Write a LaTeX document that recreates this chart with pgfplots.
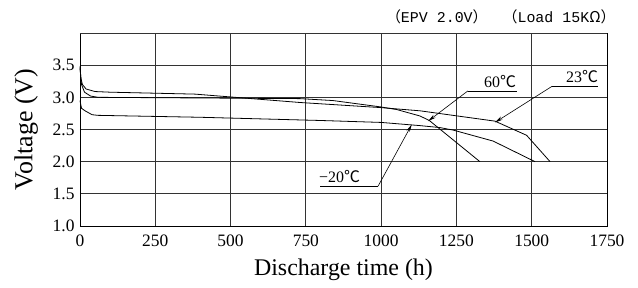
\documentclass[border=0pt]{standalone}
\usepackage{fontspec}
\setmainfont{Liberation Serif}
\newfontfamily\cjk{Noto Sans CJK SC}
\newfontfamily\mono{Liberation Mono}
\usepackage{pgfplots}
\pgfplotsset{compat=1.18}
\usetikzlibrary{arrows.meta}
\begin{document}
\begin{tikzpicture}
\useasboundingbox (-80bp,-62bp) rectangle (558bp,226bp);
\begin{axis}[
  at={(0,0)}, anchor=south west,
  scale only axis, width=527bp, height=193bp,
  xmin=0, xmax=1750, ymin=1.0, ymax=4.0,
  xtick={0,250,...,1750},
  ytick={1.0,1.5,2.0,2.5,3.0,3.5},
  extra y ticks={4.0}, extra y tick labels={},
  xticklabel style={/pgf/number format/1000 sep={}, yshift=-5bp},
  yticklabel style={/pgf/number format/fixed, /pgf/number format/fixed zerofill, /pgf/number format/precision=1, xshift=-2bp},
  /pgf/number format/assume math mode=true,
  ticklabel style={font=\fontsize{17.5}{17.5}\selectfont},
  major tick length=0pt,
  grid=major,
  major grid style={black!80, line width=0.8pt},
  axis line style={black, line width=0.8pt},
  xlabel={Discharge time (h)},
  ylabel={Voltage (V)},
  xlabel style={font=\fontsize{24}{24}\selectfont, yshift=-6bp},
  ylabel style={font=\fontsize{26}{26}\selectfont, yshift=8bp},
  clip=false,
]
% 23 C
\addplot[black, line width=0.8pt] coordinates {
(0,3.48) (3,3.30) (8,3.20) (20,3.13) (50,3.09) (100,3.08) (382,3.05) (730,2.92) (1000,2.84) (1130,2.79) (1378,2.63) (1483,2.41) (1561,2.0)};
% 60 C
\addplot[black, line width=0.8pt] coordinates {
(0,3.45) (5,3.20) (15,3.08) (35,3.02) (60,3.00) (400,2.99) (730,2.98) (840,2.95) (1000,2.85) (1052,2.81) (1129,2.71) (1160,2.64) (1328,2.0)};
% -20 C
\addplot[black, line width=0.8pt] coordinates {
(0,2.95) (5,2.83) (17,2.79) (40,2.73) (60,2.72) (400,2.69) (800,2.64) (1000,2.61) (1130,2.56) (1195,2.53) (1240,2.49) (1372,2.32) (1511,2.0)};
% annotations
\draw[black, line width=0.6pt] (axis cs:1451,3.10) -- (axis cs:1288,3.10);
\draw[black, line width=0.6pt, -{Stealth[length=8pt,width=3.5pt]}] (axis cs:1288,3.10) -- (axis cs:1156,2.63);
\node[font=\fontsize{16}{16}\selectfont] at (axis cs:1395,3.25) {60\cjk{℃}};
\draw[black, line width=0.6pt] (axis cs:1720,3.17) -- (axis cs:1567,3.17);
\draw[black, line width=0.6pt, -{Stealth[length=8pt,width=3.5pt]}] (axis cs:1567,3.17) -- (axis cs:1378,2.61);
\node[font=\fontsize{16}{16}\selectfont] at (axis cs:1667,3.33) {23\cjk{℃}};
\draw[black, line width=0.6pt] (axis cs:797,1.62) -- (axis cs:990,1.62);
\draw[black, line width=0.6pt, -{Stealth[length=8pt,width=3.5pt]}] (axis cs:990,1.62) -- (axis cs:1102,2.58);
\node[font=\fontsize{16}{16}\selectfont] at (axis cs:862,1.77) {\textminus20\cjk{℃}};
\node[anchor=west, font=\fontsize{15}{15}\selectfont] at (rel axis cs:0.574,1.083)
  {\cjk{（}\mono EPV 2.0V\cjk{）}\hspace{1em}\cjk{（}\mono Load 15K\cjk{Ω}\cjk{）}};
\end{axis}
\end{tikzpicture}
\end{document}
